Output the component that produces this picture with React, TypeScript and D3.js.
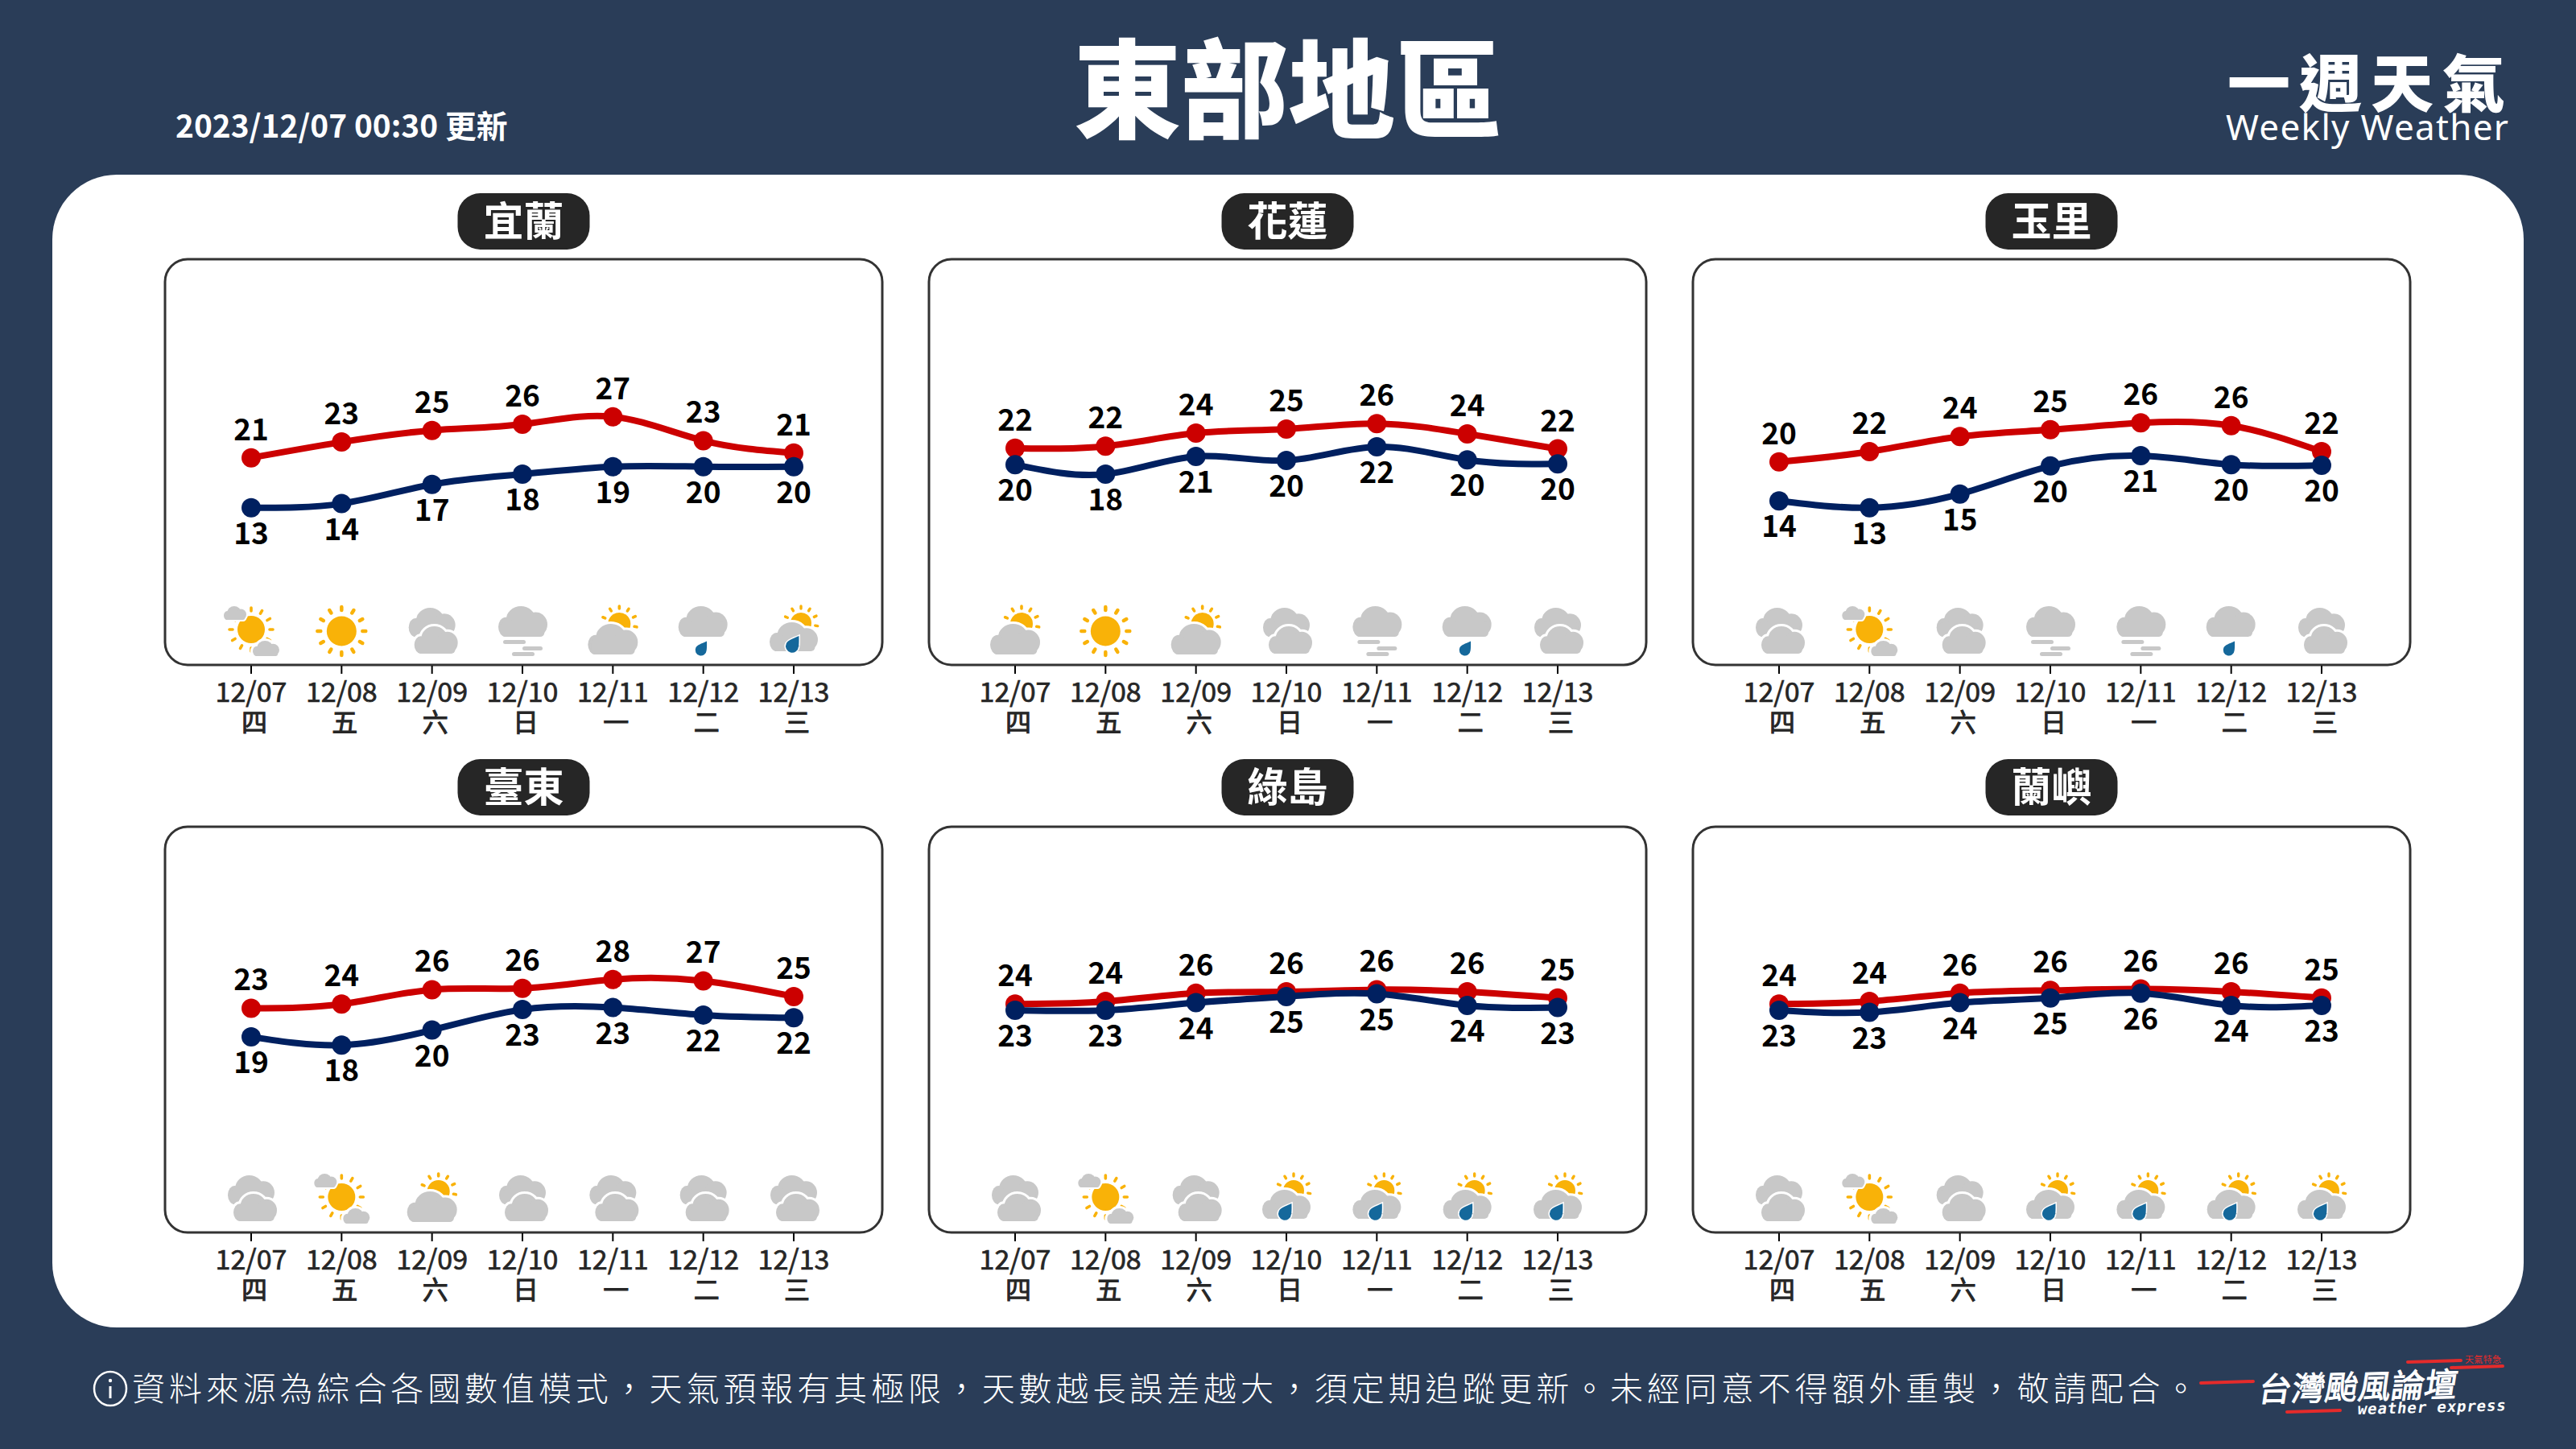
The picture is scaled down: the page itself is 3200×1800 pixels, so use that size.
/**
 * WeeklyWeather. Six station panels, high / low temperature curves with weather glyphs.
 */
import React from 'react';
import * as d3 from 'd3';

const FONT = '"Noto Sans CJK TC", "Noto Sans", sans-serif';
const BG = '#2a3d58';
const RED = '#cc0000';
const NAVY = '#002060';
const GREY = '#c8c8c8';
const SUN = '#f9b208';
const DROP = '#15689b';

const dates = ['12/07', '12/08', '12/09', '12/10', '12/11', '12/12', '12/13'];
const weekdays = ['四', '五', '六', '日', '一', '二', '三'];
const footerText = '資料來源為綜合各國數值模式，天氣預報有其極限，天數越長誤差越大，須定期追蹤更新。未經同意不得額外重製，敬請配合。';

const stations = ['宜蘭', '花蓮', '玉里', '臺東', '綠島', '蘭嶼'];

// plotted positions, they carry decimals the printed labels do not
const highs = [
  [21.1, 23.4, 25.1, 26.0, 27.1, 23.6, 21.8],
  [22.5, 22.8, 24.7, 25.3, 26.1, 24.6, 22.4],
  [20.5, 22.0, 24.2, 25.2, 26.2, 25.8, 22.0],
  [23.6, 24.2, 26.3, 26.5, 27.8, 27.6, 25.3],
  [24.2, 24.6, 25.8, 26.0, 26.3, 26.0, 25.1],
  [24.2, 24.6, 25.8, 26.2, 26.4, 26.0, 25.1],
];
const lows = [
  [13.8, 14.4, 17.2, 18.7, 19.8, 19.8, 19.8],
  [20.1, 18.7, 21.3, 20.7, 22.7, 20.8, 20.2],
  [14.8, 13.8, 15.8, 19.9, 21.4, 20.1, 20.0],
  [19.4, 18.2, 20.4, 23.4, 23.7, 22.6, 22.2],
  [23.3, 23.3, 24.4, 25.3, 25.7, 24.0, 23.7],
  [23.3, 23.0, 24.4, 25.1, 25.8, 24.0, 24.0],
];
const highLabels = [
  [21, 23, 25, 26, 27, 23, 21],
  [22, 22, 24, 25, 26, 24, 22],
  [20, 22, 24, 25, 26, 26, 22],
  [23, 24, 26, 26, 28, 27, 25],
  [24, 24, 26, 26, 26, 26, 25],
  [24, 24, 26, 26, 26, 26, 25],
];
const lowLabels = [
  [13, 14, 17, 18, 19, 20, 20],
  [20, 18, 21, 20, 22, 20, 20],
  [14, 13, 15, 20, 21, 20, 20],
  [19, 18, 20, 23, 23, 22, 22],
  [23, 23, 24, 25, 25, 24, 23],
  [23, 23, 24, 25, 26, 24, 23],
];
const icons = [
  ['sunCloud', 'sun', 'cloudy', 'fog', 'partly', 'rain', 'partlyRain'],
  ['partly', 'sun', 'partly', 'cloudy', 'fog', 'rain', 'cloudy'],
  ['cloudy', 'sunCloud', 'cloudy', 'fog', 'fog', 'rain', 'cloudy'],
  ['cloudy', 'sunCloud', 'partly', 'cloudy', 'cloudy', 'cloudy', 'cloudy'],
  ['cloudy', 'sunCloud', 'cloudy', 'partlyRain', 'partlyRain', 'partlyRain', 'partlyRain'],
  ['cloudy', 'sunCloud', 'cloudy', 'partlyRain', 'partlyRain', 'partlyRain', 'partlyRain'],
];

const PANEL_W = 891;
const PANEL_H = 504;
const panelX = [205, 1154, 2103];
const panelY = [322, 1027];

const x = d3.scalePoint<string>().domain(dates).range([107, 781]);
const y = d3.scaleLinear().domain([13, 28]).range([315.5, 188]);
const line = d3
  .line<number>()
  .x((_, i) => x(dates[i]) as number)
  .y((d) => y(d))
  .curve(d3.curveNatural);

const Cloud = ({ l, t, w, h, halo }: { l: number; t: number; w: number; h: number; halo?: number }) => {
  const shapes = (fill: string, stroke?: string) => (
    <g fill={fill} stroke={stroke} strokeWidth={stroke ? (halo ?? 0) * 2 : 0}>
      <ellipse cx={l + w * 0.46} cy={t + h * 0.44} rx={w * 0.3} ry={h * 0.44} />
      <ellipse cx={l + w * 0.15} cy={t + h * 0.68} rx={w * 0.15} ry={h * 0.32} />
      <ellipse cx={l + w * 0.76} cy={t + h * 0.6} rx={w * 0.24} ry={h * 0.4} />
      <rect x={l + w * 0.06} y={t + h * 0.5} width={w * 0.88} height={h * 0.5} rx={h * 0.14} />
    </g>
  );
  return (
    <g>
      {halo ? shapes('#fff', '#fff') : null}
      {shapes(GREY)}
    </g>
  );
};

const Rays = ({ cx, cy, r0, r1, angles, w }: { cx: number; cy: number; r0: number; r1: number; angles: number[]; w: number }) => (
  <g stroke={SUN} strokeWidth={w} strokeLinecap="round">
    {angles.map((a) => {
      const t = (a * Math.PI) / 180;
      return <line key={a} x1={cx + r0 * Math.sin(t)} y1={cy - r0 * Math.cos(t)} x2={cx + r1 * Math.sin(t)} y2={cy - r1 * Math.cos(t)} />;
    })}
  </g>
);

const Drop = ({ cx, cy, r, halo }: { cx: number; cy: number; r: number; halo?: boolean }) => {
  const d = `M${cx + r * 1.05},${cy - r * 1.5} C${cx + r * 1.1},${cy - r * 0.3} ${cx + r},${cy + r * 0.2} ${cx + r},${cy + r * 0.15} A${r},${r} 0 1 1 ${cx - r * 0.9},${cy - r * 0.35} C${cx - r * 0.6},${cy - r * 0.9} ${cx},${cy - r} ${cx + r * 1.05},${cy - r * 1.5} Z`;
  return <path d={d} fill={DROP} stroke={halo ? '#fff' : 'none'} strokeWidth={halo ? 3 : 0} paintOrder="stroke" />;
};

const ALL_RAYS = d3.range(0, 360, 30);
const HALF_RAYS = [-68, -32, 0, 32, 65, 100];

const Icon = ({ kind }: { kind: string }) => {
  switch (kind) {
    case 'sun':
      return (
        <g>
          <Rays cx={0} cy={3} r0={26} r1={30} angles={ALL_RAYS} w={4.5} />
          <circle cx={0} cy={3} r={18.5} fill={SUN} />
        </g>
      );
    case 'sunCloud':
      return (
        <g>
          <Rays cx={0} cy={1} r0={23} r1={27} angles={ALL_RAYS} w={3.6} />
          <circle cx={0} cy={1} r={17} fill={SUN} />
          <Cloud l={-34} t={-28} w={28} h={17} halo={2} />
          <Cloud l={2} t={15} w={33} h={19} halo={3} />
        </g>
      );
    case 'cloudy':
      return (
        <g>
          <Cloud l={-29} t={-26} w={58} h={36} />
          <Cloud l={-22} t={-3} w={54} h={34} halo={3} />
        </g>
      );
    case 'fog':
      return (
        <g>
          <Cloud l={-30} t={-28} w={61} h={38} />
          <g fill={GREY}>
            <rect x={-24} y={14} width={28} height={5} rx={2.5} />
            <rect x={0} y={22} width={25} height={5} rx={2.5} />
            <rect x={-13} y={29} width={28} height={5} rx={2.5} />
          </g>
        </g>
      );
    case 'partly':
      return (
        <g>
          <Rays cx={8} cy={-6} r0={19} r1={22} angles={HALF_RAYS} w={3.6} />
          <circle cx={8} cy={-6} r={14} fill={SUN} />
          <Cloud l={-31} t={-6} w={62} h={38} halo={3} />
        </g>
      );
    case 'rain':
      return (
        <g>
          <Cloud l={-31} t={-28} w={61} h={38} />
          <Drop cx={-3} cy={26} r={7} />
        </g>
      );
    case 'partlyRain':
    default:
      return (
        <g>
          <Rays cx={9} cy={-7} r0={18} r1={21} angles={HALF_RAYS} w={3.4} />
          <circle cx={9} cy={-7} r={13} fill={SUN} />
          <Cloud l={-30} t={-8} w={60} h={36} halo={3} />
          <Drop cx={-2} cy={21} r={8} halo />
        </g>
      );
  }
};

const Series = ({ values, labels, color, labelDy }: { values: number[]; labels: number[]; color: string; labelDy: number }) => (
  <g>
    <path d={line(values) ?? ''} fill="none" stroke={color} strokeWidth={8} strokeLinecap="round" />
    {values.map((v, i) => (
      <circle key={i} cx={x(dates[i])} cy={y(v)} r={12} fill={color} />
    ))}
    {values.map((v, i) => (
      <text key={i} x={x(dates[i])} y={y(v) + labelDy} textAnchor="middle" fontSize={37} fontWeight={700} fill="#000">
        {labels[i]}
      </text>
    ))}
  </g>
);

const Panel = ({ index }: { index: number }) => {
  const row = Math.floor(index / 3);
  const px = panelX[index % 3];
  const py = panelY[row];
  const pillDy = row === 1 ? -2 : 0;
  return (
    <g transform={`translate(${px},${py})`}>
      <rect x={PANEL_W / 2 - 82} y={-82 + pillDy} width={164} height={70} rx={28} fill="#262626" />
      <text x={PANEL_W / 2} y={-29 + pillDy} textAnchor="middle" fontSize={50} fontWeight={700} fill="#fff">
        {stations[index]}
      </text>
      <rect width={PANEL_W} height={PANEL_H} rx={28} fill="#fff" stroke="#333" strokeWidth={3} />
      {dates.map((d, i) => (
        <g key={d} transform={`translate(${x(d)},0)`}>
          <line y1={PANEL_H + 1} y2={PANEL_H + 11} stroke="#000" strokeWidth={2} />
          <text y={PANEL_H + 46} textAnchor="middle" fontSize={34} fill="#262626" stroke="#262626" strokeWidth={0.7}>
            {d}
          </text>
          <text x={4} y={PANEL_H + 83} textAnchor="middle" fontSize={32} fill="#262626" stroke="#262626" strokeWidth={1}>
            {weekdays[i]}
          </text>
          <g transform={`translate(0,${PANEL_H - 45})`}>
            <Icon kind={icons[index][i]} />
          </g>
        </g>
      ))}
      <Series values={highs[index]} labels={highLabels[index]} color={RED} labelDy={-22} />
      <Series values={lows[index]} labels={lowLabels[index]} color={NAVY} labelDy={45} />
    </g>
  );
};

const Logo = () => (
  <g>
    <g stroke="#e52b2b" strokeWidth={4} strokeLinecap="round">
      <line x1={2734} y1={1718} x2={2799} y2={1716} />
      <line x1={2991} y1={1692} x2={3057} y2={1690} />
      <line x1={3045} y1={1699} x2={3109} y2={1697} />
      <line x1={2841} y1={1754} x2={2907} y2={1752} />
    </g>
    <text x={3062} y={1693} fontSize={11} fill="#e52b2b" textLength={45}>
      天氣特急
    </text>
    <g transform="translate(2804,1741) rotate(-1.5) skewX(-10)">
      <text fontSize={41} fontWeight={400} fill="#fff" stroke="#fff" strokeWidth={1} letterSpacing={0.2}>
        台灣颱風論壇
      </text>
    </g>
    <g transform="translate(2928,1757) rotate(-1.5) skewX(-10)">
      <text fontSize={19} fontWeight={700} fill="#fff" fontFamily='"DejaVu Sans Mono", monospace' textLength={184}>
        weather express
      </text>
    </g>
  </g>
);

export default function App() {
  return (
    <svg
      width={3200}
      height={1800}
      viewBox="0 0 3200 1800"
      fontFamily={FONT}
      style={{ position: 'absolute', left: 0, top: 0, display: 'block' }}
    >
      <rect width={3200} height={1800} fill={BG} />
      <text x={218} y={171} fontSize={38.8} fontWeight={700} fill="#fff">
        2023/12/07 00:30 更新
      </text>
      <text x={1600} y={161} textAnchor="middle" fontSize={133} fontWeight={900} fill="#fff">
        東部地區
      </text>
      <text x={2767} y={133} fontSize={78} fontWeight={900} letterSpacing={11} fill="#fff">
        一週天氣
      </text>
      <text x={2765} y={174} fontSize={44} fill="#fff" fontFamily='"Noto Sans", sans-serif' textLength={351}>
        Weekly Weather
      </text>

      <rect x={65} y={217} width={3070} height={1432} rx={80} fill="#fff" />
      {stations.map((s, i) => (
        <Panel key={s} index={i} />
      ))}

      <g fill="none" stroke="#fff" strokeWidth={2.5}>
        <ellipse cx={137} cy={1725} rx={20} ry={21} />
      </g>
      <rect x={135.5} y={1722} width={3} height={15} fill="#fff" />
      <circle cx={137} cy={1715} r={2.2} fill="#fff" />
      <text x={164} y={1740} fontSize={41} fontWeight={300} letterSpacing={4.9} fill="#fff">
        {footerText}
      </text>
      <Logo />
    </svg>
  );
}
